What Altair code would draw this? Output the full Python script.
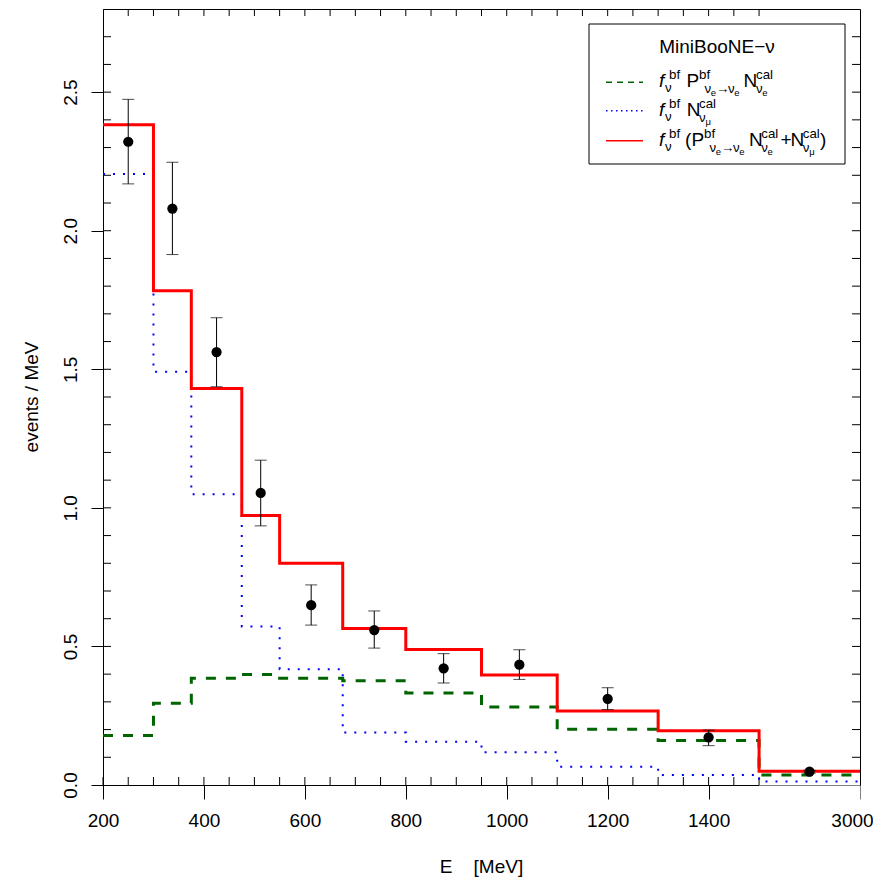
import altair as alt
import pandas as pd

FONT = "Liberation Sans"

# ---------------- data ----------------
bin_edges = [200, 300, 375, 475, 550, 675, 800, 950, 1100, 1300, 1500, 3000]
bin_centers = [250, 337.5, 425, 512.5, 612.5, 737.5, 875, 1025, 1200, 1400, 2250]

nue_osc = [0.179, 0.295, 0.385, 0.399, 0.385, 0.376, 0.332, 0.281, 0.201, 0.161, 0.036]
numu_bkg = [2.205, 1.491, 1.049, 0.572, 0.418, 0.189, 0.156, 0.118, 0.066, 0.036, 0.013]
total = [2.382, 1.783, 1.431, 0.972, 0.800, 0.565, 0.489, 0.397, 0.267, 0.196, 0.050]

data_val = [2.321, 2.080, 1.562, 1.054, 0.649, 0.559, 0.421, 0.434, 0.311, 0.172, 0.048]
data_hi = [2.474, 2.247, 1.686, 1.172, 0.722, 0.628, 0.474, 0.488, 0.351, 0.198, 0.053]
data_lo = [2.169, 1.914, 1.437, 0.935, 0.577, 0.494, 0.368, 0.381, 0.272, 0.142, 0.043]

x_major_ticks = [200, 400, 600, 800, 1000, 1200, 1400, 3000]
y_major_ticks = [0.0, 0.5, 1.0, 1.5, 2.0, 2.5]

# broken x axis: linear up to 1500 MeV, the last bin 1500-3000 is compressed
BREAK, E_MAX, TAIL = 1500, 3000, 200


def axpos(e):
    return e if e <= BREAK else BREAK + (e - BREAK) * TAIL / (E_MAX - BREAK)


W, H = 757, 776
xscale = alt.Scale(domain=[axpos(200), axpos(E_MAX)], nice=False, zero=False)
yscale = alt.Scale(domain=[0, 2.8], nice=False, zero=True)

label_expr = " : ".join(
    [f"datum.value == {axpos(v)} ? '{v}'" for v in x_major_ticks if v > BREAK]
    + ["format(datum.value, 'd')"]
)
xaxis = alt.Axis(
    values=[axpos(v) for v in x_major_ticks], labelExpr=label_expr, title=None, grid=False,
    tickSize=14, labelPadding=27, labelBaseline="alphabetic", labelAlign="center", labelFontSize=19,
    labelFont=FONT, labelColor="black", domainColor="black", labelOverlap=False, labelFlush=False,
    labelOffset={"condition": {"test": f"datum.value > {BREAK}", "value": -8}, "value": 0},
    tickColor={"condition": {"test": f"datum.value > {BREAK}", "value": "#808080"}, "value": "black"},
)
yaxis = alt.Axis(
    values=y_major_ticks, format=".1f", title=None, grid=False, tickSize=12,
    labelAngle=270, labelAlign="center", labelBaseline="alphabetic", labelPadding=15,
    labelFontSize=19, labelFont=FONT, labelColor="black", tickColor="black", domainColor="black",
    labelFlush=False, labelOverlap=False,
)


def step_df(vals):
    return pd.DataFrame({"xp": [axpos(e) for e in bin_edges], "v": vals + [vals[-1]]})


def X(f="xp:Q"):
    return alt.X(f, scale=xscale, axis=xaxis)


def Y(f="v:Q"):
    return alt.Y(f, scale=yscale, axis=yaxis)


green = alt.Chart(step_df(nue_osc)).mark_line(
    interpolate="step-after", color="#006400", strokeWidth=3, strokeDash=[10, 10]
).encode(x=X(), y=Y())
blue = alt.Chart(step_df(numu_bkg)).mark_line(
    interpolate="step-after", color="#0000ff", strokeWidth=2, strokeDash=[2, 8]
).encode(x=X(), y=Y())
red = alt.Chart(step_df(total)).mark_line(
    interpolate="step-after", color="#ff0000", strokeWidth=3
).encode(x=X(), y=Y())

pts = pd.DataFrame({"xp": [axpos(c) for c in bin_centers], "v": data_val, "lo": data_lo, "hi": data_hi})
err = alt.Chart(pts).mark_rule(color="black", strokeWidth=1).encode(x=X(), y=Y("lo:Q"), y2="hi:Q")
cap_lo = alt.Chart(pts).mark_tick(orient="horizontal", size=12, thickness=1, color="black").encode(x=X(), y=Y("lo:Q"))
cap_hi = alt.Chart(pts).mark_tick(orient="horizontal", size=12, thickness=1, color="black").encode(x=X(), y=Y("hi:Q"))
dots = alt.Chart(pts).mark_circle(size=105, color="black", opacity=1).encode(x=X(), y=Y())

# inward ticks on all four sides
bx = pd.DataFrame({"xp": [axpos(e) for e in range(200, BREAK + 1, 50)]})
tx = pd.DataFrame({"xp": [axpos(e) for e in range(250, BREAK + 1, 50)]})
ly = pd.DataFrame({"v": [i / 10 for i in range(1, 28)]})
t_bottom = alt.Chart(bx).mark_rule(color="black").encode(x=X(), y=alt.value(H), y2=alt.value(H - 8))
t_top = alt.Chart(tx).mark_rule(color="black").encode(x=X(), y=alt.value(0), y2=alt.value(7))
t_left = alt.Chart(ly).mark_rule(color="black").encode(y=Y(), x=alt.value(0), x2=alt.value(8))
t_right = alt.Chart(ly).mark_rule(color="black").encode(y=Y(), x=alt.value(W), x2=alt.value(W - 8))
tail = alt.Chart(pd.DataFrame({"xp": [axpos(BREAK)], "b": [axpos(E_MAX)]})).mark_rule(
    color="#808080", strokeWidth=1
).encode(x=X(), x2="b:Q", y=alt.value(H + 0.5))

# ---------------- legend ----------------
legend_box = alt.Chart(pd.DataFrame({"k": [0]})).mark_rect(
    fill="white", stroke="black", strokeWidth=1
).encode(x=alt.value(486), x2=alt.value(742), y=alt.value(15), y2=alt.value(155))

leg_lines = [
    ("#006400", [6, 5], 73.3),
    ("#0000ff", [1.5, 3.5], 101.7),
    ("#ff0000", None, 131.7),
]
leg_line_layers = []
for col, dash, yy in leg_lines:
    kw = dict(color=col, strokeWidth=1.5)
    if dash:
        kw["strokeDash"] = dash
    leg_line_layers.append(
        alt.Chart(pd.DataFrame({"k": [0]})).mark_rule(**kw).encode(
            x=alt.value(503), x2=alt.value(540), y=alt.value(yy)
        )
    )

M, S, SS = 19, 13.3, 9.5
SUP, SUB, SUB2 = -8, 6, 9
B = [77.5, 107, 136.5]
norm_rows = [("MiniBooNE\u2212\u03bd", 614, 44.3, M)]
ital_rows = []


def osc_sub(x0, b):
    return [("\u03bd", x0, b + SUB, S), ("e", x0 + 6.3, b + SUB2, SS), ("\u2192", x0 + 11.5, b + SUB, S),
            ("\u03bd", x0 + 23.5, b + SUB, S), ("e", x0 + 29.8, b + SUB2, SS)]


for b in B:
    ital_rows.append(("f", 556, b, M))
    norm_rows += [("bf", 566, b + SUP, S), ("\u03bd", 562, b + 5, S)]
# row 1
b = B[0]
norm_rows += [("P", 583.5, b, M), ("bf", 596, b + SUP, S)] + osc_sub(601.5, b)
norm_rows += [("N", 640.5, b, M), ("cal", 653, b + SUP, S), ("\u03bd", 653, b + SUB, S), ("e", 659.3, b + SUB2, SS)]
# row 2
b = B[1]
norm_rows += [("N", 583.7, b, M), ("cal", 596, b + SUP, S), ("\u03bd", 596, b + SUB, S), ("\u03bc", 602.5, b + SUB2, SS)]
# row 3
b = B[2]
norm_rows += [("(", 582, b, M), ("P", 588.5, b, M), ("bf", 601, b + SUP, S)] + osc_sub(606.5, b)
norm_rows += [("N", 646, b, M), ("cal", 658.3, b + SUP, S), ("\u03bd", 658.3, b + SUB, S), ("e", 664.6, b + SUB2, SS)]
norm_rows += [("+", 677.5, b, M), ("N", 687.5, b, M), ("cal", 699.8, b + SUP, S), ("\u03bd", 699.8, b + SUB, S),
              ("\u03bc", 706.3, b + SUB2, SS), (")", 717, b, M)]


def text_layer(rows, italic=False):
    df = pd.DataFrame(rows, columns=["t", "px", "py", "fs"])
    df["al"] = ["center" if t.startswith("MiniBooNE") else "left" for t in df["t"]]
    parts = []
    for al, sub in df.groupby("al"):
        parts.append(
            alt.Chart(sub).mark_text(
                align=al, baseline="alphabetic", font=FONT, color="black",
                fontStyle="italic" if italic else "normal",
            ).encode(
                x=alt.X("px:Q", scale=None, axis=None), y=alt.Y("py:Q", scale=None, axis=None),
                size=alt.Size("fs:Q", scale=None, legend=None), text="t:N",
            )
        )
    return parts


legend_text = text_layer(norm_rows) + text_layer(ital_rows, italic=True)

# axis titles
titles = pd.DataFrame({"t": ["E\u00a0\u00a0\u00a0\u00a0[MeV]"], "px": [W / 2], "py": [864]})
xtitle = alt.Chart(titles).mark_text(font=FONT, fontSize=19, align="center", baseline="alphabetic", color="black").encode(
    x=alt.X("px:Q", scale=None, axis=None), y=alt.Y("py:Q", scale=None, axis=None), text="t:N")
ytitle_df = pd.DataFrame({"t": ["events / MeV"], "px": [-65], "py": [H / 2]})
ytitle = alt.Chart(ytitle_df).mark_text(font=FONT, fontSize=19, align="center", baseline="alphabetic",
                                        angle=270, color="black").encode(
    x=alt.X("px:Q", scale=None, axis=None), y=alt.Y("py:Q", scale=None, axis=None), text="t:N")

chart = alt.layer(
    green, t_bottom, t_top, t_left, t_right, tail, blue, red, err, cap_lo, cap_hi, dots,
    legend_box, *leg_line_layers, *legend_text, xtitle, ytitle,
).properties(
    width=W, height=H,
    padding={"left": 95, "top": 1, "right": 13, "bottom": 95},
    autosize=alt.AutoSizeParams(type="none"),
).configure_view(stroke="black", strokeWidth=1).configure_axis(tickWidth=1, domainWidth=1)

chart.save("out.html", embed_options={"renderer": "svg", "actions": False})
